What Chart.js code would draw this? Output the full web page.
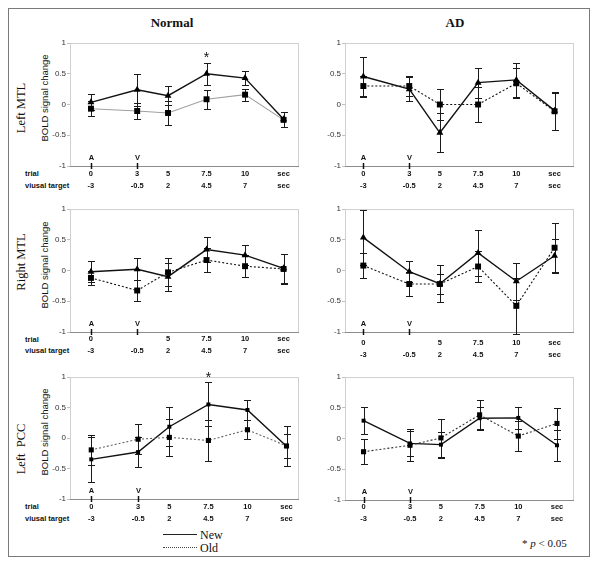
<!DOCTYPE html>
<html><head><meta charset="utf-8">
<script src="https://cdn.jsdelivr.net/npm/chart.js@4.4.0/dist/chart.umd.min.js"></script>
<style>
body{margin:0;background:#fff;}
#wrap{position:relative;width:600px;height:564px;overflow:hidden;font-family:"Liberation Sans",Arial,sans-serif;color:#111;background:#fff}
.frame{position:absolute;left:8px;top:8px;width:582px;height:549px;border:1.5px solid #7a7a7a;box-sizing:border-box}
canvas{position:absolute}
.t{position:absolute;white-space:pre;line-height:1;color:#111}
.c{transform:translate(-50%,-50%)}
.m{transform:translateY(-50%)}
.rot{transform:translate(-50%,-50%) rotate(-90deg)}
.serif{font-family:"Liberation Serif","Times New Roman",serif}
.head{font-weight:bold;font-size:13px}
.roi{font-size:12.5px}
.bold{font-size:9.5px}
.row{font-size:7.5px;font-weight:bold}
</style></head>
<body>
<div id="wrap">
  <div class="frame"></div>
  <div class="t c serif head" style="left:172px;top:22px">Normal</div>
  <div class="t c serif head" style="left:455px;top:22px">AD</div>

  <div class="t rot serif roi" style="left:21px;top:108px">Left MTL</div>
  <div class="t rot bold" style="left:45px;top:98px">BOLD signal change</div>
  <div class="t rot serif roi" style="left:21px;top:262px">Right MTL</div>
  <div class="t rot bold" style="left:45px;top:265px">BOLD signal change</div>
  <div class="t rot serif roi" style="left:21px;top:449px">Left  PCC</div>
  <div class="t rot bold" style="left:45px;top:432px">BOLD signal change</div>

  <div class="t m row" style="left:25px;top:174px">trial</div>
  <div class="t m row" style="left:25px;top:186px">viusal target</div>
  <div class="t m row" style="left:25px;top:340px">trial</div>
  <div class="t m row" style="left:25px;top:351px">viusal target</div>
  <div class="t m row" style="left:25px;top:507px">trial</div>
  <div class="t m row" style="left:25px;top:519px">viusal target</div>

  <div style="position:absolute;left:163px;top:534px;width:34px;border-top:1.5px solid #222"></div>
  <div class="t m serif" style="left:200px;top:535px;font-size:12px">New</div>
  <div style="position:absolute;left:163px;top:547px;width:34px;border-top:1.2px dotted #444"></div>
  <div class="t m serif" style="left:200px;top:548px;font-size:12px">Old</div>
  <div class="t m serif" style="left:522px;top:543px;font-size:11px;color:#111">* <i style="color:#111">p</i> &lt; 0.05</div>

  <canvas id="tl"></canvas><canvas id="tr"></canvas>
  <canvas id="ml"></canvas><canvas id="mr"></canvas>
  <canvas id="bl"></canvas><canvas id="br"></canvas>
</div>
<script>
// ---- data ----
const xPositions = [0, 3, 5, 7.5, 10, 12.5];
const trialLabelsFull = ["0", "3", "5", "7.5", "10", "sec"];
const trialLabelsNo3 = ["0", "", "5", "7.5", "10", "sec"];
const visualLabels = ["-3", "-0.5", "2", "4.5", "7", "sec"];
const yTicks = [-1, -0.5, 0, 0.5, 1];
const yTickLabels = ["-1", "-0.5", "0", "0.5", "1"];
const onsetX = [0, 3];
const onsetLabels = ["A", "V"];

// Normal, Left MTL
const normalLMTLNew = [0.035, 0.24, 0.143, 0.50, 0.43, -0.24];
const normalLMTLNewErr = [0.13, 0.26, 0.157, 0.18, 0.12, 0.12];
const normalLMTLOld = [-0.068, -0.106, -0.138, 0.085, 0.16, -0.25];
const normalLMTLOldErr = [0.12, 0.125, 0.2, 0.155, 0.1, 0.12];
// AD, Left MTL
const adLMTLNew = [0.455, 0.25, -0.46, 0.355, 0.40, -0.10];
const adLMTLNewErr = [0.315, 0.2, 0.32, 0.245, 0.27, 0.31];
const adLMTLOld = [0.30, 0.30, 0.0, 0.0, 0.345, -0.11];
const adLMTLOldErr = [0.17, 0.16, 0.26, 0.29, 0.245, 0.3];
// Normal, Right MTL
const normalRMTLNew = [-0.02, 0.02, -0.10, 0.34, 0.25, 0.035];
const normalRMTLNewErr = [0.17, 0.18, 0.23, 0.2, 0.16, 0.24];
const normalRMTLOld = [-0.12, -0.325, -0.03, 0.17, 0.07, 0.025];
const normalRMTLOldErr = [0.12, 0.17, 0.23, 0.2, 0.18, 0.24];
// AD, Right MTL
const adRMTLNew = [0.535, -0.02, -0.215, 0.285, -0.175, 0.24];
const adRMTLNewErr = [0.45, 0.17, 0.3, 0.37, 0.3, 0.28];
const adRMTLOld = [0.08, -0.22, -0.22, 0.065, -0.575, 0.37];
const adRMTLOldErr = [0.2, 0.19, 0.17, 0.25, 0.45, 0.4];
// Normal, Left PCC
const normalLPCCNew = [-0.35, -0.23, 0.185, 0.55, 0.46, -0.135];
const normalLPCCNewErr = [0.37, 0.24, 0.32, 0.36, 0.16, 0.33];
const normalLPCCOld = [-0.195, -0.02, 0.01, -0.04, 0.135, -0.13];
const normalLPCCOldErr = [0.245, 0.25, 0.3, 0.34, 0.155, 0.2];
// AD, Left PCC
const adLPCCNew = [0.29, -0.08, -0.10, 0.33, 0.335, -0.11];
const adLPCCNewErr = [0.22, 0.2, 0.21, 0.18, 0.18, 0.25];
const adLPCCOld = [-0.215, -0.11, 0.01, 0.385, 0.04, 0.245];
const adLPCCOldErr = [0.2, 0.26, 0.31, 0.245, 0.24, 0.25];

// significance markers (x, y in data units)
const starNormalLMTL = [7.5, 0.80];
const starNormalLPCC = [7.5, 1.03];

// ---- layout / style ----
const panels = [
  {id:'tl', rect:[70,43,299,166], xr:[-1.36,13.5], nv:normalLMTLNew, ne:normalLMTLNewErr, ov:normalLMTLOld, oe:normalLMTLOldErr,
   trial:trialLabelsFull, star:starNormalLMTL, oldColor:'#a0a0a0', oldDash:[], newMk:'triangle', newR:4, oldR:4.2, tickPad:2},
  {id:'tr', rect:[345,43,574,166], xr:[-1.2,13.77], nv:adLMTLNew, ne:adLMTLNewErr, ov:adLMTLOld, oe:adLMTLOldErr,
   trial:trialLabelsFull, star:null, oldColor:'#111', oldDash:[2,2], newMk:'triangle', newR:4, oldR:4.2, tickPad:2},
  {id:'ml', rect:[70,209,299,332], xr:[-1.36,13.5], nv:normalRMTLNew, ne:normalRMTLNewErr, ov:normalRMTLOld, oe:normalRMTLOldErr,
   trial:trialLabelsNo3, star:null, oldColor:'#111', oldDash:[2,2], newMk:'triangle', newR:4, oldR:4.2, tickPad:1},
  {id:'mr', rect:[345,209,574,332], xr:[-1.2,13.77], nv:adRMTLNew, ne:adRMTLNewErr, ov:adRMTLOld, oe:adRMTLOldErr,
   trial:trialLabelsNo3, star:null, oldColor:'#111', oldDash:[2,2], newMk:'triangle', newR:4, oldR:4.2, tickPad:5},
  {id:'bl', rect:[70,377,299,499], xr:[-1.36,13.3], nv:normalLPCCNew, ne:normalLPCCNewErr, ov:normalLPCCOld, oe:normalLPCCOldErr,
   trial:trialLabelsFull, star:starNormalLPCC, oldColor:'#666', oldDash:[2,2], newMk:'rect', newR:2.8, oldR:3.6, tickPad:2},
  {id:'br', rect:[345,377,574,500], xr:[-1.2,13.6], nv:adLPCCNew, ne:adLPCCNewErr, ov:adLPCCOld, oe:adLPCCOldErr,
   trial:trialLabelsFull, star:null, oldColor:'#333', oldDash:[2,2], newMk:'rect', newR:2.8, oldR:3.6, tickPad:1}
];

const PADL = 45, PADT = 12, PADR = 12, PADB = 32;

function makeDeco(p){
  return {
    id:'deco_'+p.id,
    beforeDatasetsDraw(chart){
      const {ctx, chartArea:a, scales:{x, y}} = chart;
      ctx.save();
      ctx.lineWidth = 1;
      ctx.strokeStyle = '#d0d0d0';
      ctx.strokeRect(Math.round(a.left)+0.5, Math.round(a.top)+0.5, Math.round(a.right-a.left)-1, Math.round(a.bottom-a.top));
      ctx.strokeStyle = '#8c8c8c';
      ctx.beginPath();
      ctx.moveTo(a.left, Math.round(a.bottom)+0.5); ctx.lineTo(a.right, Math.round(a.bottom)+0.5);
      ctx.stroke();
      // error bars
      ctx.strokeStyle = '#1a1a1a';
      [[p.nv,p.ne],[p.ov,p.oe]].forEach(([vals, errs]) => {
        vals.forEach((v, j) => {
          const px = Math.round(x.getPixelForValue(xPositions[j])) + 0.5;
          const y1 = Math.round(y.getPixelForValue(v + errs[j])) + 0.5;
          const y2 = Math.round(y.getPixelForValue(v - errs[j])) + 0.5;
          ctx.beginPath();
          ctx.moveTo(px, y1); ctx.lineTo(px, y2);
          ctx.moveTo(px-3.5, y1); ctx.lineTo(px+3.5, y1);
          ctx.moveTo(px-3.5, y2); ctx.lineTo(px+3.5, y2);
          ctx.stroke();
        });
      });
      ctx.restore();
    },
    afterDraw(chart){
      const {ctx, chartArea:a, scales:{x, y}} = chart;
      ctx.save();
      ctx.fillStyle = '#111';
      ctx.strokeStyle = '#111';
      ctx.font = 'bold 7.5px "Liberation Sans", Arial, sans-serif';
      ctx.textAlign = 'center';
      ctx.textBaseline = 'middle';
      onsetX.forEach((v, i) => {
        const px = Math.round(x.getPixelForValue(v)) + 0.5;
        ctx.fillText(onsetLabels[i], px, a.bottom - 8.5);
        ctx.lineWidth = 1.5;
        ctx.beginPath(); ctx.moveTo(px, a.bottom - 3); ctx.lineTo(px, a.bottom + 3); ctx.stroke();
      });
      if (p.star) {
        ctx.font = '14px "Liberation Sans", Arial, sans-serif';
        ctx.fillText('*', x.getPixelForValue(p.star[0]), y.getPixelForValue(p.star[1]) + 3);
      }
      ctx.restore();
    }
  };
}

panels.forEach(p => {
  const [l, t, r, b] = p.rect;
  const cv = document.getElementById(p.id);
  const w = r - l + PADL + PADR, h = b - t + PADT + PADB;
  cv.width = w; cv.height = h;
  cv.style.left = (l - PADL) + 'px'; cv.style.top = (t - PADT) + 'px';
  cv.style.width = w + 'px'; cv.style.height = h + 'px';
  const pts = vals => vals.map((v, i) => ({x: xPositions[i], y: v}));
  new Chart(cv, {
    type: 'line',
    data: {
      datasets: [
        {label:'Old', data: pts(p.ov), borderColor: p.oldColor, borderWidth: 1.1, borderDash: p.oldDash,
         pointStyle:'rect', pointRadius: p.oldR, pointBackgroundColor:'#000', pointBorderColor:'#000', pointBorderWidth:0, tension:0},
        {label:'New', data: pts(p.nv), borderColor:'#111', borderWidth: 1.4,
         pointStyle: p.newMk, pointRadius: p.newR, pointBackgroundColor:'#000', pointBorderColor:'#000', pointBorderWidth:0, tension:0}
      ]
    },
    options: {
      responsive: false, animation: false, events: [],
      devicePixelRatio: 1,
      layout: {padding: {left:0, top:PADT, right:PADR, bottom:0}},
      plugins: {legend:{display:false}, tooltip:{enabled:false}, title:{display:false}},
      scales: {
        x: {
          type:'linear', min:p.xr[0], max:p.xr[1],
          grid:{display:false, drawTicks:false, tickLength:0}, border:{display:false},
          afterBuildTicks: s => { s.ticks = xPositions.map(v => ({value:v})); },
          afterFit: s => { s.height = PADB; },
          ticks: {
            autoSkip:false, maxRotation:0, padding:p.tickPad, color:'#111',
            font:{family:'"Liberation Sans", Arial, sans-serif', size:7.5, weight:'bold', lineHeight:1.6},
            callback: (v, i) => [p.trial[i], visualLabels[i]]
          }
        },
        y: {
          min:-1, max:1,
          grid:{drawOnChartArea:false, drawTicks:true, tickLength:3, color:'#c0c0c0'},
          border:{display:false},
          afterBuildTicks: s => { s.ticks = yTicks.map(v => ({value:v})); },
          afterFit: s => { s.width = PADL; },
          ticks: {
            padding:1, color:'#333',
            font:{family:'"Liberation Sans", Arial, sans-serif', size:8},
            callback: (v) => yTickLabels[yTicks.indexOf(v)]
          }
        }
      }
    },
    plugins: [makeDeco(p)]
  });
});
</script>
</body></html>
